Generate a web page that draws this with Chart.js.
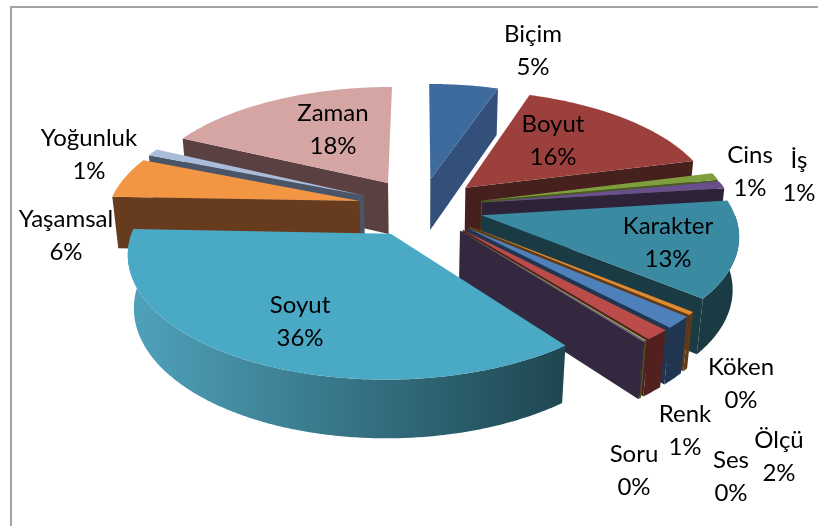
<!DOCTYPE html>
<html>
<head>
<meta charset="utf-8">
<script src="https://cdn.jsdelivr.net/npm/chart.js@4"></script>
<style>
html,body{margin:0;padding:0;background:#fff}
#wrap{position:absolute;left:0;top:0;width:818px;height:526px}
</style>
</head>
<body>
<div id="wrap"><canvas id="c" width="818" height="526"></canvas></div>
<script>
// ---- data ----
const categories = ['Biçim','Boyut','Cins','İş','Karakter','Köken','Ölçü','Renk','Ses','Soru','Soyut','Yaşamsal','Yoğunluk','Zaman'];
const shares = [5.2,15.8,1,1,13,0.4,1.6,1.4,0.1,0.1,36,5.5,1,17.9];

// ---- styles ----
const topColors  = ['#3e6b9e','#9c403d','#7f9f3f','#6a4f8f','#3a8aa2','#e28a2d','#4e80bc','#bc4c4a','#9ab955','#7c5fa0','#4aa9c4','#f39644','#a9bcd9','#d5a5a4'];
const wallColors = ['#33507a','#46201c','#4a5a25','#2e2238','#1b3b44','#5e3a18','#1f3550','#532020','#4a5a25','#33283f','#1e4650','#673b1d','#4a5568','#5a4040'];
const rimLightColors = {10:'#4fa3bc'};
const paintOrder = [0,13,1,12,11,2,3,4,5,6,7,8,9,10];
const labelXs = [533,553,750,799,668,741,779,685,731,634,300,66,89,333];
const labelYs = [34,124,155,160,226,367,440,414,460,454,305,219,138,113];
const lineGap = 33;
const labelFont = '24px Lato, Carlito, sans-serif';

// projection of the exploded disc
const view = {cx:420.5, cy:207, A:251, B:116.4, p:0.144, D:53, q:0.02, explode:0.25};
function project(X,Y,Z){
  const w = 1 - view.p*Y + view.q*Z;
  return [view.cx + view.A*X/w, view.cy + (view.B*Y + view.D*Z)/w];
}

const pie3d = {
  id:'pie3d',
  beforeDraw(chart){
    const ctx = chart.ctx;
    ctx.save();
    ctx.fillStyle='#fff';
    ctx.fillRect(0,0,818,526);
    ctx.strokeStyle='#a3a3a3';
    ctx.lineWidth=2;
    ctx.beginPath();
    ctx.moveTo(11,526); ctx.lineTo(11,7); ctx.lineTo(818,7);
    ctx.stroke();
    ctx.restore();
  },
  beforeDatasetDraw(chart){
    const ctx = chart.ctx;
    const arcs = chart.getDatasetMeta(0).data;
    const poly = (pts,fill)=>{
      ctx.beginPath();
      pts.forEach((p,i)=> i?ctx.lineTo(p[0],p[1]):ctx.moveTo(p[0],p[1]));
      ctx.closePath();
      ctx.fillStyle=fill; ctx.fill();
    };
    paintOrder.forEach(i=>{
      const a = arcs[i], s = a.startAngle, e = a.endAngle, mid=(s+e)/2;
      const ox = Math.cos(mid)*view.explode, oy = Math.sin(mid)*view.explode;
      const pt = (t,r,z)=>project(ox+r*Math.cos(t), oy+r*Math.sin(t), z);
      const wall = wallColors[i];
      // radial cut faces, only those turned to the viewer
      if (Math.cos(s) < 0) poly([pt(s,0,0),pt(s,1,0),pt(s,1,1),pt(s,0,1)], wall);
      if (Math.cos(e) > 0) poly([pt(e,0,0),pt(e,1,0),pt(e,1,1),pt(e,0,1)], wall);
      // outer wall, front half only
      const n=Math.max(2,Math.ceil((e-s)/0.01));
      const front=[];
      for(let k=0;k<=n;k++){ const t=s+(e-s)*k/n; if(Math.sin(t)>=-0.001) front.push(t); }
      if(front.length>1){
        const up=front.map(t=>pt(t,1,0)), down=front.map(t=>pt(t,1,1)).reverse();
        let fill=wall;
        if(rimLightColors[i]){
          const xs=up.map(p=>p[0]);
          const g=ctx.createLinearGradient(Math.min(...xs),0,Math.max(...xs),0);
          g.addColorStop(0,rimLightColors[i]); g.addColorStop(1,wall);
          fill=g;
        }
        poly(up.concat(down),fill);
      }
      // top face
      const top=[pt(s,0,0)];
      for(let k=0;k<=n;k++) top.push(pt(s+(e-s)*k/n,1,0));
      poly(top,topColors[i]);
    });
    // labels
    ctx.save();
    ctx.font=labelFont; ctx.fillStyle='#000'; ctx.textAlign='center'; ctx.textBaseline='middle';
    categories.forEach((c,i)=>{
      ctx.fillText(c,labelXs[i],labelYs[i]);
      ctx.fillText(Math.round(shares[i])+'%',labelXs[i],labelYs[i]+lineGap);
    });
    ctx.restore();
    return false;
  }
};

new Chart(document.getElementById('c'),{
  type:'pie',
  data:{labels:categories,datasets:[{data:shares,backgroundColor:topColors,borderWidth:0}]},
  options:{
    responsive:false,animation:false,
    plugins:{legend:{display:false},tooltip:{enabled:false}}
  },
  plugins:[pie3d]
});
</script>
</body>
</html>
